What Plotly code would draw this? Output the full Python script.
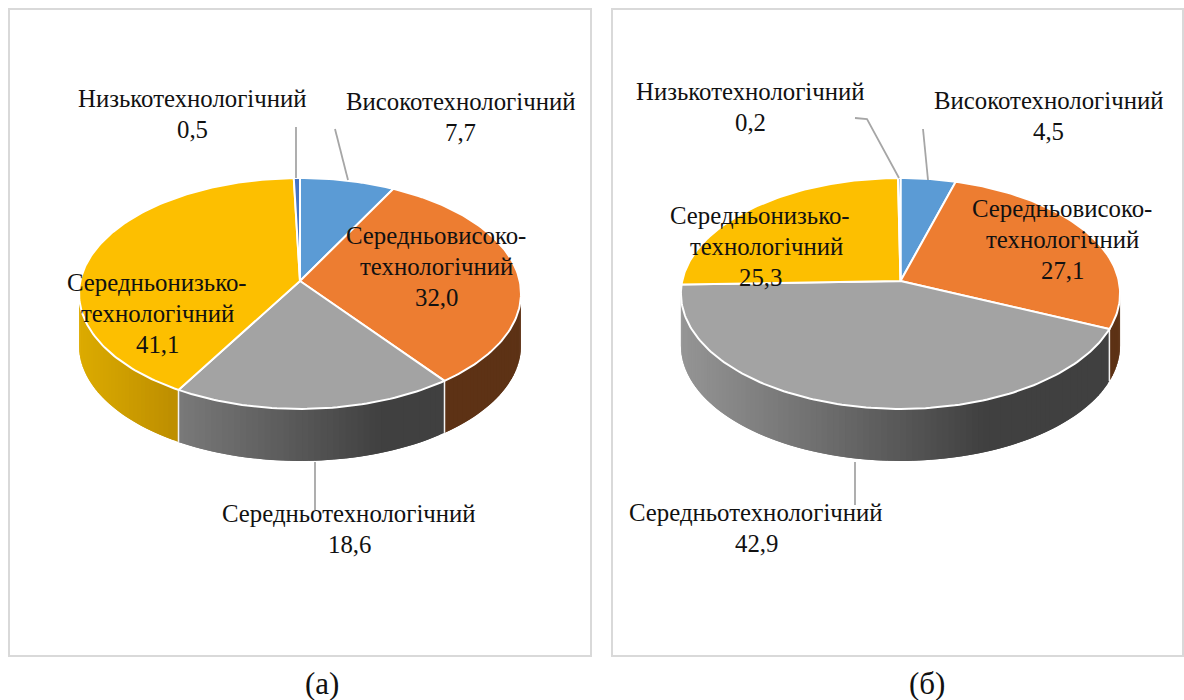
import numpy as np
import plotly.graph_objects as go

categories = ["Високотехнологічний", "Середньовисоко-технологічний", "Середньотехнологічний",
              "Середньонизько-технологічний", "Низькотехнологічний"]
values_a = [7.7, 32.0, 18.6, 41.1, 0.5]
values_b = [4.5, 27.1, 42.9, 25.3, 0.2]
panel_names = ["(а)", "(б)"]

TOP = ["#5b9bd5", "#ed7d31", "#a3a3a3", "#fdbf00", "#4472c4"]
SIDE = [("#2f5a85", "#2f5a85"), ("#5d3215", "#5d3215"), ("#959595", "#404040"),
        ("#dcab00", "#bb8c00"), ("#264478", "#264478")]
GRAD = [1, 1, 300, 100, 1]
FONT = "Liberation Serif"
FS = 24.8
K, S, DEPTH = 0.108, 114.1, 52


def project(cx, cy, r, th):
    d = 1 + K * np.cos(th)
    return cx + r * np.sin(th) / d, cy - S * np.cos(th) / d


def hex2rgb(h):
    return np.array([int(h[i:i + 2], 16) for i in (1, 3, 5)], float)


fig = go.Figure()


def poly(xs, ys, fill, line=None, w=0):
    fig.add_trace(go.Scatter(x=xs, y=ys, mode="lines", fill="toself", fillcolor=fill,
                             line=dict(color=line or fill, width=w), hoverinfo="skip", showlegend=False))


def line(xs, ys, color="#a6a6a6", w=1.8):
    fig.add_trace(go.Scatter(x=xs, y=ys, mode="lines", line=dict(color=color, width=w),
                             hoverinfo="skip", showlegend=False))


def pie(vals, cx, cy, r):
    v = np.array(vals, float)
    edges = np.concatenate([[0], np.cumsum(v) / v.sum()]) * 2 * np.pi
    th_r, th_l = np.arccos(-K), 2 * np.pi - np.arccos(-K)
    left = cx - r
    # side wall, painted strip by strip; each strip overlaps the next to avoid seams
    for i in range(len(v)):
        a, b = max(edges[i], th_r), min(edges[i + 1], th_l)
        if b <= a:
            continue
        n = max(2, int((b - a) / 0.025))
        ts = np.linspace(a, b, n + 1)
        c0, c1 = hex2rgb(SIDE[i][0]), hex2rgb(SIDE[i][1])
        for j in range(n - 1, -1, -1):
            t2 = np.linspace(ts[j], ts[min(j + 2, n)], 4)
            x, y = project(cx, cy, r, t2)
            f = min(1, max(0, (x[-1] - left) / GRAD[i]))
            c = c0 + (c1 - c0) * f
            col = "rgb(%d,%d,%d)" % tuple(c)
            poly(np.r_[x, x[::-1]], np.r_[y, y[::-1] + DEPTH], col)
    for e in edges:
        if th_r <= e <= th_l:
            x, y = project(cx, cy, r, e)
            line([x, x], [y, y + DEPTH], "#f4f4f4", 1.5)
    # top
    for i in range(len(v)):
        ts = np.linspace(edges[i], edges[i + 1], max(3, int((edges[i + 1] - edges[i]) / 0.02)))
        x, y = project(cx, cy, r, ts)
        poly(np.r_[cx, x, cx], np.r_[cy, y, cy], TOP[i], "#ffffff", 2)


def num(v):
    return f"{v:.1f}".replace(".", ",")


def label(lines, x, y, step=31, size=FS):
    for n, t in enumerate(lines):
        fig.add_annotation(x=x[n] if isinstance(x, (list, tuple)) else x, y=y + n * step, text=t,
                           showarrow=False, xanchor="center", yanchor="middle",
                           font=dict(family=FONT, size=size, color="#111111"))


pie(values_a, 300, 281, 219.7)
pie(values_b, 900.5, 281, 218.3)

line([296, 296], [127, 178])
line([335, 348], [129, 180])
line([315, 315], [462, 510])
line([855, 867, 899], [118, 119, 178])
line([923, 928], [129, 180])
line([855, 855], [462, 505])

s = categories
label([s[4], num(values_a[4])], 192, 98)
label([s[0], num(values_a[0])], 460.5, 101)
label(["Середньовисоко-", "технологічний", num(values_a[1])], 436, 235)
label(["Середньонизько-", "технологічний", num(values_a[3])], 157, 282)
label([s[2], num(values_a[2])], 349, 513)
label([s[4], num(values_b[4])], 750, 91)
label([s[0], num(values_b[0])], 1048, 100)
label(["Середньовисоко-", "технологічний", num(values_b[1])], 1062, 208)
label(["Середньонизько-", "технологічний", num(values_b[3])], [760, 766, 760], 215)
label([s[2], num(values_b[2])], 756, 512)
label([panel_names[0]], 322, 683, size=31)
label([panel_names[1]], 927, 683, size=31)

fig.update_layout(
    width=1184, height=700, margin=dict(l=0, r=0, t=0, b=0), paper_bgcolor="white", plot_bgcolor="white",
    showlegend=False,
    xaxis=dict(range=[0, 1184], visible=False, fixedrange=True),
    yaxis=dict(range=[700, 0], visible=False, fixedrange=True),
    shapes=[
        dict(type="rect", x0=9, y0=9, x1=591, y1=656, line=dict(color="#d9d9d9", width=2), layer="below"),
        dict(type="rect", x0=612, y0=9, x1=1183, y1=656, line=dict(color="#d9d9d9", width=2), layer="below"),
    ],
)
fig.write_html("out.html", config={"displayModeBar": False},
               post_script="document.body.style.margin='0';document.documentElement.style.overflow='hidden';")
